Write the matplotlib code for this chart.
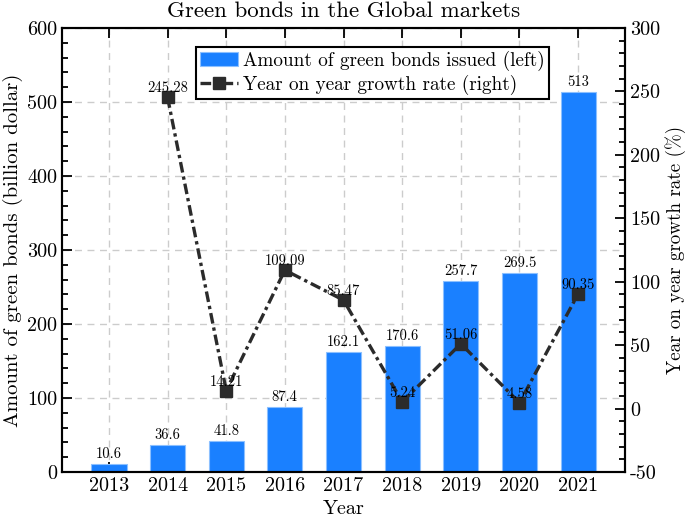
import matplotlib
matplotlib.use("Agg")
import matplotlib.pyplot as plt
from matplotlib.ticker import MultipleLocator

plt.rcParams['font.family'] = ['cmr10', 'DejaVu Serif']
plt.rcParams['axes.formatter.use_mathtext'] = False
plt.rcParams['mathtext.fontset'] = 'cm'
plt.rcParams['axes.unicode_minus'] = False

years = ['2013', '2014', '2015', '2016', '2017', '2018', '2019', '2020', '2021']
amount = [10.6, 36.6, 41.8, 87.4, 162.1, 170.6, 257.7, 269.5, 513]
growth_years = ['2014', '2015', '2016', '2017', '2018', '2019', '2020', '2021']
growth = [245.28, 14.21, 109.09, 85.47, 5.24, 51.06, 4.58, 90.35]

fig = plt.figure(figsize=(6.85, 5.2), dpi=100)
ax = fig.add_axes([0.0905, 0.0923, 0.822, 0.854])
x = list(range(len(years)))
gx = [years.index(y) for y in growth_years]

ax.bar(x, amount, width=0.6, color='#1A80FF', edgecolor='#8CC0FF', linewidth=0.8, zorder=2,
       label='Amount of green bonds issued (left)')
for xi, v in zip(x, amount):
    ax.text(xi, v + 4, f'{v:g}', ha='center', va='bottom', fontsize=10.5, zorder=5)

ax.set_ylim(0, 600)
ax.set_xlim(-0.8, 8.8)
ax.yaxis.set_major_locator(MultipleLocator(100))
ax.yaxis.set_minor_locator(MultipleLocator(20))
ax.set_xticks(x)
ax.set_xticklabels(years)
ax.grid(True, linestyle=(0, (5, 4)), color='#cccccc', linewidth=1, zorder=0)
ax.set_axisbelow(True)
ax.tick_params(axis='both', which='both', direction='in', labelsize=14.5)
ax.tick_params(axis='x', which='major', top=True, length=7, width=1.3)
ax.tick_params(axis='y', which='major', length=7, width=1.3)
ax.tick_params(axis='y', which='minor', length=4, width=1.3)
ax.set_ylabel('Amount of green bonds (billion dollar)', fontsize=15, labelpad=3)
ax.set_xlabel('Year', fontsize=14.5, labelpad=4)
ax.set_title('Green bonds in the Global markets', fontsize=16.5, pad=8)
for s in ax.spines.values():
    s.set_linewidth(1.5)

ax2 = ax.twinx()
ax2.plot(gx, growth, color='#2b2b2b', linestyle='-.', linewidth=2.4, marker='s', markersize=8.5,
         dashes=(3.2, 1.2, 1.0, 1.2), label='Year on year growth rate (right)', zorder=4)
for xi, v in zip(gx, growth):
    ax2.text(xi, v + 1.5, f'{v:g}', ha='center', va='bottom', fontsize=10.5, zorder=5)
ax2.set_ylim(-50, 300)
ax2.yaxis.set_major_locator(MultipleLocator(50))
ax2.yaxis.set_minor_locator(MultipleLocator(10))
ax2.tick_params(axis='y', which='both', direction='in', labelsize=14.5)
ax2.tick_params(axis='y', which='major', length=7, width=1.3)
ax2.tick_params(axis='y', which='minor', length=4, width=1.3)
ax2.set_ylabel('Year on year growth rate (%)', fontsize=13.7, labelpad=4)
for s in ax2.spines.values():
    s.set_linewidth(1.5)

h1, l1 = ax.get_legend_handles_labels()
h2, l2 = ax2.get_legend_handles_labels()
leg = ax2.legend(h1 + h2, l1 + l2, loc='upper left', bbox_to_anchor=(0.238, 0.957), fontsize=13.8,
                 fancybox=False, edgecolor='black', framealpha=1, handlelength=2.0,
                 borderpad=0.2, labelspacing=0.2, handletextpad=0.25, borderaxespad=0)
leg.get_frame().set_linewidth(1.5)

fig.savefig('out.png', dpi=100)
